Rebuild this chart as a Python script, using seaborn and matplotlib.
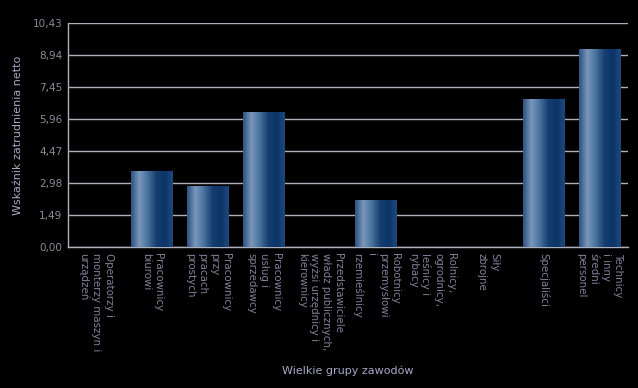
import numpy as np
import pandas as pd
import matplotlib
matplotlib.use('Agg')
import matplotlib.pyplot as plt
from matplotlib.colors import LinearSegmentedColormap
import seaborn as sns

# Data
groups = [
    "Operatorzy i\nmonterzy maszyn i\nurządzeń",
    "Pracownicy\nbiurowi",
    "Pracownicy\nprzy\npracach\nprostych",
    "Pracownicy\nusług i\nsprzedawcy",
    "Przedstawiciele\nwładz publicznych,\nwyżsi urzędnicy i\nkierownicy",
    "Robotnicy\nprzemysłowi\ni\nrzemieślnicy",
    "Rolnicy,\nogrodnicy,\nleśnicy i\nrybacy",
    "Siły\nzbrojne",
    "Specjaliści",
    "Technicy\ni inny\nśredni\npersonel",
]
values = [0.0, 3.55, 2.85, 6.28, 0.0, 2.20, 0.0, 0.0, 6.90, 9.23]
y_ticks = [0.0, 1.49, 2.98, 4.47, 5.96, 7.45, 8.94, 10.43]

df = pd.DataFrame({'grupa': groups, 'wskaznik': values})

sns.set_style('dark')
plt.rcParams['font.family'] = ['DejaVu Sans']

bg = '#000000'
fig = plt.figure(figsize=(6.38, 3.88), dpi=100, facecolor=bg)
ax = fig.add_axes([0.1066, 0.3634, 0.8777, 0.5773])
ax.set_facecolor(bg)

sns.barplot(data=df, x='grupa', y='wskaznik', color='#1f4a7a', width=0.75,
            linewidth=0, edgecolor='none', ax=ax, zorder=3)

# horizontal gradient on every bar
grad = LinearSegmentedColormap.from_list(
    'bar', ['#2b5282', '#7897bb', '#4a72a0', '#173f70', '#0b3468', '#1d4a7e'])
gimg = np.linspace(0, 1, 256).reshape(1, -1)
for p in ax.patches:
    x0, y0 = p.get_x(), p.get_y()
    w, h = p.get_width(), p.get_height()
    if h <= 0:
        p.set_visible(False)
        continue
    im = ax.imshow(gimg, cmap=grad, aspect='auto', extent=[x0, x0 + w, y0, y0 + h],
                   zorder=4, interpolation='bilinear')
    im.set_clip_path(p)

ax.set_xlim(-0.5, len(groups) - 0.5)
ax.set_ylim(0, 10.43)
ax.set_yticks(y_ticks)
ax.set_yticklabels([f"{v:.2f}".replace('.', ',') for v in y_ticks],
                   color='#8a8a9a', fontsize=7.5)
ax.set_xticks(range(len(groups)))
ax.set_xticklabels(groups, rotation=270, ha='center', va='top',
                   multialignment='left', color='#80809a', fontsize=7.4,
                   linespacing=1.28)
ax.tick_params(axis='both', length=0, pad=4)

ax.grid(axis='y', color='#b0b0bc', linewidth=1.0, zorder=1)
ax.grid(axis='x', visible=False)
for side in ['top', 'right']:
    ax.spines[side].set_visible(False)
ax.spines['left'].set_color('#b0b0bc')
ax.spines['bottom'].set_color('#b0b0bc')
ax.spines['left'].set_linewidth(1.0)
ax.spines['bottom'].set_linewidth(1.0)

ax.set_ylabel('Wskaźnik zatrudnienia netto', color='#a8a8c8', fontsize=8, labelpad=7)
ax.set_xlabel('')
fig.text(0.545, 0.045, 'Wielkie grupy zawodów', color='#a8a8c8', fontsize=8,
         ha='center', va='center')

plt.savefig('out.png', dpi=100, facecolor=bg)
